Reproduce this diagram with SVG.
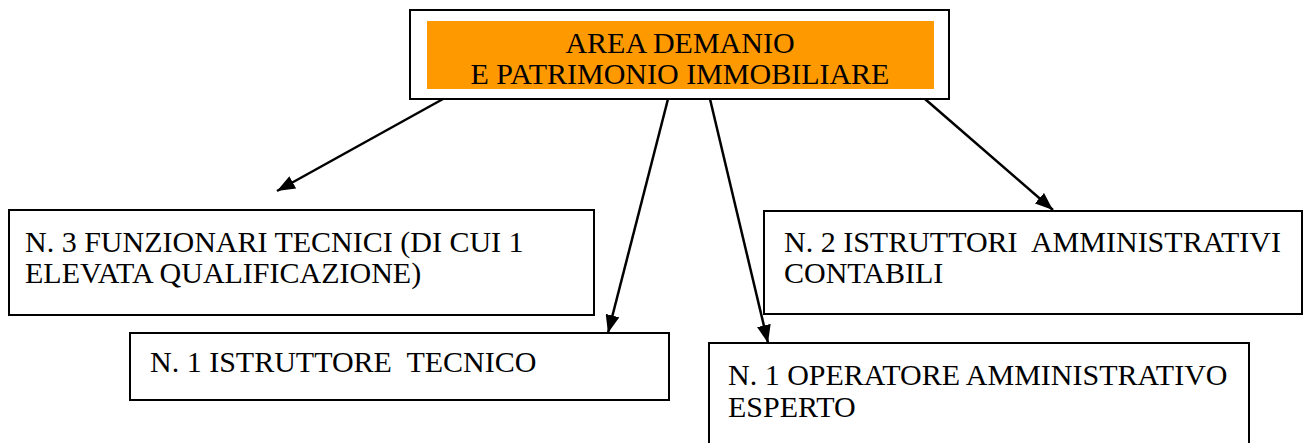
<svg xmlns="http://www.w3.org/2000/svg" width="1311" height="443" viewBox="0 0 1311 443">
<style>
.box{fill:#fff;stroke:#000;stroke-width:2}
text{font-family:'Liberation Serif','Times New Roman',serif;font-size:30px;fill:#000;white-space:pre}
.c{stroke:#000;stroke-width:2.5;fill:none}
</style>
<defs>
<marker id="ah" viewBox="0 0 18 14" refX="18" refY="7" markerWidth="18" markerHeight="14" markerUnits="userSpaceOnUse" orient="auto">
<path d="M0,0 L18,7 L0,14 z" fill="#000"/>
</marker>
</defs>
<rect width="1311" height="443" fill="#fff"/>
<g id="connectors">
<line class="c" x1="443" y1="99" x2="277" y2="191" marker-end="url(#ah)"/>
<line class="c" x1="668" y1="99" x2="608" y2="333" marker-end="url(#ah)"/>
<line class="c" x1="710" y1="99" x2="768" y2="343" marker-end="url(#ah)"/>
<line class="c" x1="925" y1="99" x2="1053" y2="210" marker-end="url(#ah)"/>
</g>
<g id="root">
<rect class="box" x="410" y="10" width="539" height="89"/>
<rect x="427" y="21" width="507" height="68" fill="#ff9900"/>
<text x="680" y="53" text-anchor="middle">AREA DEMANIO</text>
<text x="680" y="84" text-anchor="middle">E PATRIMONIO IMMOBILIARE</text>
</g>
<g id="funzionari">
<rect class="box" x="9" y="210" width="585" height="105"/>
<text x="25" y="252">N. 3 FUNZIONARI TECNICI (DI CUI 1</text>
<text x="25" y="283">ELEVATA QUALIFICAZIONE)</text>
</g>
<g id="istruttore-tecnico">
<rect class="box" x="130" y="333" width="539" height="67"/>
<text x="150" y="372">N. 1 ISTRUTTORE  TECNICO</text>
</g>
<g id="istruttori-amm">
<rect class="box" x="764" y="211" width="538" height="103"/>
<text x="784" y="252">N. 2 ISTRUTTORI  AMMINISTRATIVI</text>
<text x="784" y="283">CONTABILI</text>
</g>
<g id="operatore">
<rect class="box" x="709" y="343" width="540" height="110"/>
<text x="728" y="385">N. 1 OPERATORE AMMINISTRATIVO</text>
<text x="728" y="417">ESPERTO</text>
</g>
</svg>
